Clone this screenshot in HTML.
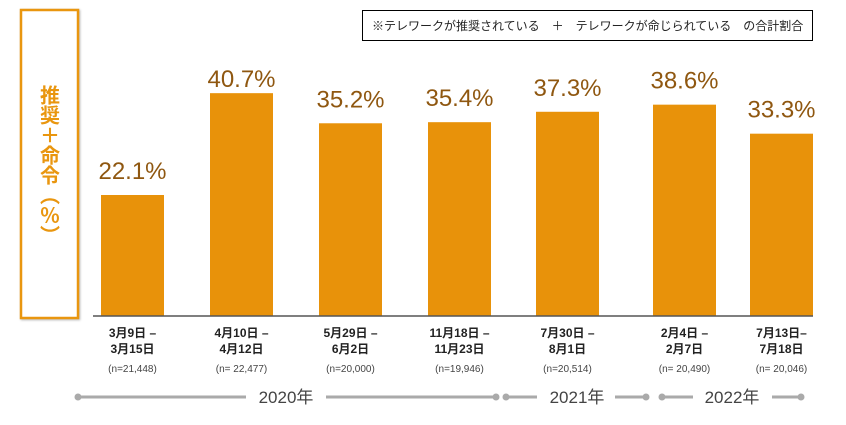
<!DOCTYPE html>
<html><head><meta charset="utf-8"><style>
body{margin:0;background:#fff;width:846px;height:420px;overflow:hidden;font-family:"Liberation Sans","Noto Sans CJK JP",sans-serif}
</style></head><body>
<svg width="846" height="420" xmlns="http://www.w3.org/2000/svg" font-family="Liberation Sans, Noto Sans CJK JP, sans-serif">
<rect x="21" y="10" width="57" height="308" fill="#fff" stroke="#e9960f" stroke-width="2.5" style="filter:drop-shadow(1px 1px 1px #bbb)"/>
<text x="50" y="85" fill="#e9960f" font-weight="bold" font-size="20" style="writing-mode:vertical-rl;text-orientation:upright" font-family="Noto Sans CJK JP, sans-serif">推奨＋命令（%）</text>
<rect x="362.5" y="10.5" width="450" height="30" fill="#fff" stroke="#000" stroke-width="1"/>
<text x="372" y="30" font-size="12" fill="#222" font-family="Noto Sans CJK JP, sans-serif" xml:space="preserve">※テレワークが推奨されている　＋　テレワークが命じられている　の合計割合</text>
<g id="bars"></g>
<line x1="93" y1="316" x2="813" y2="316" stroke="#555" stroke-width="1.5"/>
<g id="timeline" stroke="#aaa" stroke-width="3" fill="#aaa">
<line x1="78" y1="397" x2="246" y2="397"/><line x1="326" y1="397" x2="496" y2="397"/>
<circle cx="78" cy="397" r="3.5" stroke="none"/><circle cx="496" cy="397" r="3.5" stroke="none"/>
<line x1="506" y1="397" x2="537" y2="397"/><line x1="615" y1="397" x2="646" y2="397"/>
<circle cx="506" cy="397" r="3.5" stroke="none"/><circle cx="646" cy="397" r="3.5" stroke="none"/>
<line x1="662" y1="397" x2="693" y2="397"/><line x1="772" y1="397" x2="801" y2="397"/>
<circle cx="662" cy="397" r="3.5" stroke="none"/><circle cx="801" cy="397" r="3.5" stroke="none"/>
</g>
<text x="286" y="403" font-size="17" fill="#444" text-anchor="middle">2020年</text>
<text x="577" y="403" font-size="17" fill="#444" text-anchor="middle">2021年</text>
<text x="732" y="403" font-size="17" fill="#444" text-anchor="middle">2022年</text>
</svg>
<script>
const values=[22.1,40.7,35.2,35.4,37.3,38.6,33.3];
const dateLine1=["3月9日 –","4月10日 –","5月29日 –","11月18日 –","7月30日 –","2月4日 –","7月13日–"];
const dateLine2=["3月15日","4月12日","6月2日","11月23日","8月1日","2月7日","7月18日"];
const sampleSizes=["(n=21,448)","(n= 22,477)","(n=20,000)","(n=19,946)","(n=20,514)","(n= 20,490)","(n= 20,046)"];
const slotX=[101,210,319,428,536,653,750];
const NS="http://www.w3.org/2000/svg";
const base=316, scale=121/22.1, bw=63;
function y(v){return base-v*scale;}
const g=document.getElementById('bars');
function mk(t,a,txt){const e=document.createElementNS(NS,t);for(const k in a)e.setAttribute(k,a[k]);if(txt!=null)e.textContent=txt;g.appendChild(e);return e;}
values.forEach((v,i)=>{
 const x=slotX[i], cx=x+bw/2;
 const r=mk('rect',{x:x,y:y(v),width:bw,height:base-y(v),fill:'#e8920a'});
 
 
 const off=v>40?6:16;
 const t=mk('text',{x:cx,y:y(v)-off,'font-size':24,fill:'#8f5710','text-anchor':'middle'},v.toFixed(1)+'%');
 
 
 const d1=mk('text',{x:cx,y:337,'font-size':12,'font-weight':'bold',fill:'#222','text-anchor':'middle'},dateLine1[i]);
 
 
 const d2=mk('text',{x:cx,y:353,'font-size':12,'font-weight':'bold',fill:'#222','text-anchor':'middle'},dateLine2[i]);
 
 
 const n=mk('text',{x:cx,y:372,'font-size':10,fill:'#444','text-anchor':'middle'},sampleSizes[i]);
 
 
});
</script>
</body></html>
